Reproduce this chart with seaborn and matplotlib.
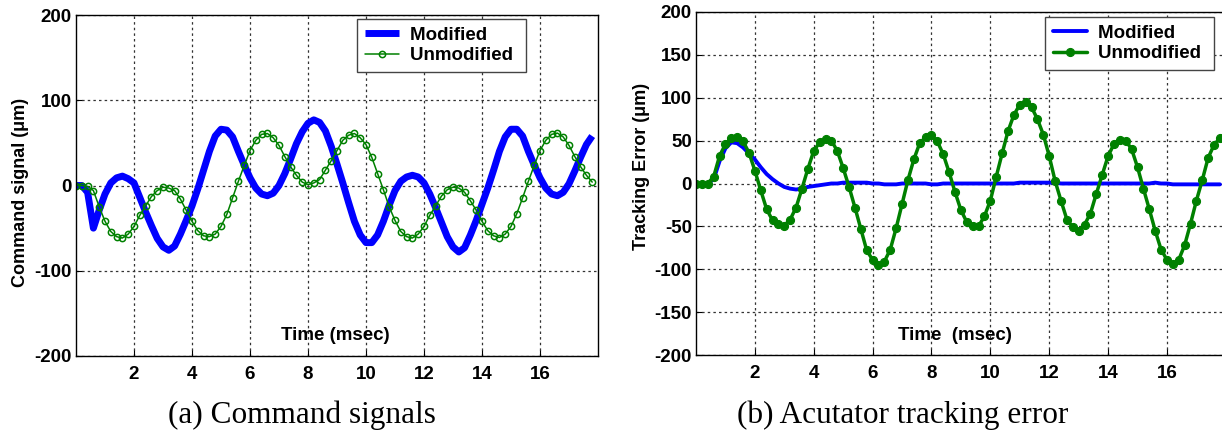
import numpy as np
import pandas as pd
import matplotlib
matplotlib.use("Agg")
import matplotlib.pyplot as plt
import seaborn as sns

# ---------------- data ----------------
time_ms = [0.0, 0.2, 0.4, 0.6, 0.8, 1.0, 1.2, 1.4, 1.6, 1.8,
           2.0, 2.2, 2.4, 2.6, 2.8, 3.0, 3.2, 3.4, 3.6, 3.8,
           4.0, 4.2, 4.4, 4.6, 4.8, 5.0, 5.2, 5.4, 5.6, 5.8,
           6.0, 6.2, 6.4, 6.6, 6.8, 7.0, 7.2, 7.4, 7.6, 7.8,
           8.0, 8.2, 8.4, 8.6, 8.8, 9.0, 9.2, 9.4, 9.6, 9.8,
           10.0, 10.2, 10.4, 10.6, 10.8, 11.0, 11.2, 11.4, 11.6, 11.8,
           12.0, 12.2, 12.4, 12.6, 12.8, 13.0, 13.2, 13.4, 13.6, 13.8,
           14.0, 14.2, 14.4, 14.6, 14.8, 15.0, 15.2, 15.4, 15.6, 15.8,
           16.0, 16.2, 16.4, 16.6, 16.8, 17.0, 17.2, 17.4, 17.6, 17.8]

cmd_modified = [0, 0, -8, -50, -29, -10, 3, 9, 11, 8,
                3, -14, -31, -47, -62, -72, -76, -71, -57, -41,
                -24, -4, 18, 40, 58, 66, 65, 57, 40, 24,
                9, -3, -10, -12, -9, 0, 14, 31, 49, 63,
                73, 77, 74, 64, 46, 25, 3, -20, -42, -58,
                -67, -67, -58, -42, -23, -6, 5, 10, 12, 10,
                3, -10, -26, -43, -60, -72, -78, -73, -58, -41,
                -22, -3, 18, 40, 57, 66, 66, 58, 40, 24,
                9, -3, -10, -12, -8, 2, 17, 33, 48, 58]

cmd_unmodified = [0, 0, -1, -6, -25, -42, -54, -60, -61.6, -57,
                  -48, -35, -24, -13, -6, -2, -3, -6, -16, -29,
                  -42, -53, -59, -60, -57, -48, -34, -14.5, 5, 23.5,
                  41, 53, 60, 61, 56, 47, 34, 22, 12, 4,
                  1, 3, 7, 18, 29, 41, 53, 59, 61, 56,
                  48, 33, 14, -5, -25, -41, -54, -60, -61.6, -57,
                  -48, -35, -24, -12.5, -5, -2, -3, -8, -18, -29,
                  -42, -53, -59, -61, -57, -48, -33, -14.5, 5, 23.5,
                  41, 53, 60, 61.5, 57, 47, 34, 22, 12, 4]

err_modified = [0, 0, 0, 5, 26, 41, 48, 47, 42, 35,
                28, 19, 11, 5, 0, -4, -6, -7, -6, -4,
                -3, -2, -1, 0, 0, 1, 1, 1, 1, 1,
                0, 0, -1, -1, -1, 0, 0, 0, 0, 0,
                -1, -1, 0, 0, 0, 0, 0, 0, 0, 0,
                0, 0, 0, 0, 0, 1, 1, 1, 1, 1,
                1, 1, 0, 0, 0, 0, 0, 0, 0, 0,
                0, 0, 0, 0, 0, 0, 0, 0, 1, 0,
                0, -1, -1, -1, -1, -1, -1, -1, -1, -1]

err_unmodified = [-1, -1, 0, 8, 32, 46, 53, 54, 49, 36,
                  15, -8, -30, -43, -47, -49, -42, -28, -6, 17,
                  38, 48, 52, 50, 38, 18, -4, -28, -53, -78,
                  -89, -95, -91, -77, -52, -24, 4, 28, 47, 54,
                  56, 49, 34, 13, -10, -31, -45, -50, -50, -38,
                  -20, 8, 35, 61, 80, 92, 95, 89, 75, 57,
                  32, 3, -20, -42, -51, -55, -48, -35, -12, 10,
                  32, 46, 51, 50, 40, 19, -6, -30, -55, -77,
                  -89, -94, -89, -72, -47, -20, 4, 30, 45, 53]

series_labels = ["Modified", "Unmodified"]
x_ticks = [2, 4, 6, 8, 10, 12, 14, 16]
y_ticks_left = [-200, -100, 0, 100, 200]
y_ticks_right = [-200, -150, -100, -50, 0, 50, 100, 150, 200]
captions = ["(a) Command signals", "(b) Acutator tracking error"]
y_labels = ["Command signal (\u03bcm)", "Tracking Error (\u03bcm)"]
x_labels = ["Time (msec)", "Time  (msec)"]

# ---------------- style ----------------
sns.set_theme(style="white")
plt.rcParams["font.family"] = ["Liberation Sans", "DejaVu Sans"]
plt.rcParams["axes.edgecolor"] = "black"
plt.rcParams["axes.linewidth"] = 1.0
plt.rcParams["text.color"] = "black"
plt.rcParams["axes.labelcolor"] = "black"
plt.rcParams["xtick.color"] = "black"
plt.rcParams["ytick.color"] = "black"

BLUE = "#0000FF"
GREEN = "#008000"
W, H = 1222, 434

fig = plt.figure(figsize=(W / 100, H / 100), dpi=100)
ax1 = fig.add_axes([76 / W, 1 - 356 / H, 522 / W, 341 / H])
ax2 = fig.add_axes([696 / W, 1 - 355 / H, 526 / W, 343 / H])

df = pd.DataFrame({"t": time_ms,
                   "cmd_mod": cmd_modified, "cmd_unmod": cmd_unmodified,
                   "err_mod": err_modified, "err_unmod": err_unmodified})

# left panel
sns.lineplot(data=df, x="t", y="cmd_mod", ax=ax1, color=BLUE, lw=5,
             label=series_labels[0], solid_capstyle="butt")
sns.lineplot(data=df, x="t", y="cmd_unmod", ax=ax1, color=GREEN, lw=1.1,
             marker="o", markersize=4.5, markerfacecolor="none",
             markeredgecolor=GREEN, markeredgewidth=1.1,
             label=series_labels[1])

# right panel
sns.lineplot(data=df, x="t", y="err_mod", ax=ax2, color=BLUE, lw=2.8,
             label=series_labels[0])
sns.lineplot(data=df, x="t", y="err_unmod", ax=ax2, color=GREEN, lw=2.5,
             marker="o", markersize=5.8, markerfacecolor=GREEN,
             markeredgecolor=GREEN, markeredgewidth=0.8,
             label=series_labels[1])

grid_kw = dict(color="#333333", linestyle=(0, (2, 2.5)), linewidth=0.9)
tick_font = dict(fontsize=13.5, fontweight="bold", color="black")

for ax, yt, ylab, xlim_hi in [
        (ax1, y_ticks_left, y_labels[0], 18.0),
        (ax2, y_ticks_right, y_labels[1], 17.87)]:
    ax.set_xlim(0, xlim_hi)
    ax.set_ylim(-200, 200)
    ax.set_xticks(x_ticks)
    ax.set_yticks(yt)
    ax.set_xticklabels([str(v) for v in x_ticks], **tick_font)
    ax.set_yticklabels([str(v) for v in yt], **tick_font)
    ax.tick_params(axis="both", direction="in", length=4, width=0.8,
                   colors="black", left=True, bottom=True)
    ax.tick_params(axis="x", pad=7)
    ax.tick_params(axis="y", pad=3)
    ax.grid(True, **grid_kw)
    ax.set_xlabel("")
    ax.set_ylabel(ylab, fontsize=13, fontweight="bold", color="black")
    for s in ax.spines.values():
        s.set_color("black")
        s.set_linewidth(1.0)

ax2.spines["right"].set_visible(False)

ax1.yaxis.set_label_coords(-0.09, 0.48)
ax2.yaxis.set_label_coords(-0.0875, 0.55)

ax1.text(8.95, -176, x_labels[0], ha="center", va="center",
         fontsize=13.5, fontweight="bold", color="black")
ax2.text(8.8, -177, x_labels[1], ha="center", va="center",
         fontsize=13.5, fontweight="bold", color="black")

leg_kw = dict(loc="upper left", bbox_transform=fig.transFigure,
              frameon=True, fancybox=False, shadow=False,
              borderaxespad=0, borderpad=0.4, handlelength=1.85,
              handletextpad=0.6, labelspacing=0.2,
              prop=dict(size=13.5, weight="bold"))
leg1 = ax1.legend(bbox_to_anchor=(357 / W, 1 - 19 / H), **leg_kw)
leg2 = ax2.legend(bbox_to_anchor=(1045 / W, 1 - 17 / H), **leg_kw)
for leg in (leg1, leg2):
    fr = leg.get_frame()
    fr.set_edgecolor("#444444")
    fr.set_linewidth(1.0)
    fr.set_facecolor("white")
    fr.set_alpha(1.0)
    for txt in leg.get_texts():
        txt.set_color("black")
        txt.set_text(txt.get_text() + " ")

fig.text(302 / W, 1 - 423 / H, captions[0], ha="center", va="baseline",
         fontsize=22.5, color="black",
         family=["Liberation Serif", "DejaVu Serif"])
fig.text(903 / W, 1 - 423 / H, captions[1], ha="center", va="baseline",
         fontsize=22.5, color="black",
         family=["Liberation Serif", "DejaVu Serif"])

fig.savefig("out.png", dpi=100)
